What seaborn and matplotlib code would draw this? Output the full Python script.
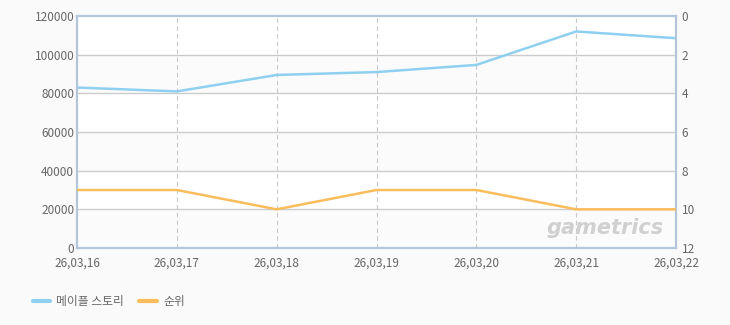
import matplotlib
matplotlib.use("Agg")
import matplotlib.pyplot as plt
import seaborn as sns
import pandas as pd
from matplotlib.lines import Line2D

dates = ["26,03,16", "26,03,17", "26,03,18", "26,03,19", "26,03,20", "26,03,21", "26,03,22"]
users = [83000, 81000, 89500, 91000, 94700, 112000, 108500]
rank = [9, 9, 10, 9, 9, 10, 10]
series_names = ["메이플 스토리", "순위"]
left_ticks = [0, 20000, 40000, 60000, 80000, 100000, 120000]
right_ticks = [0, 2, 4, 6, 8, 10, 12]

sns.set_style("white")
plt.rcParams['font.family'] = ['Noto Sans CJK KR', 'DejaVu Sans']

bg = "#fafafa"
blue = "#8fd0f0"
orange = "#fbbd5c"
spine_c = "#b3c5d8"
txt_c = "#666666"

fig = plt.figure(figsize=(7.3, 3.25), dpi=100, facecolor=bg)
ax = fig.add_axes([77/730, 1-248/325, (676-77)/730, (248-16)/325])
ax.set_facecolor("white")

x = list(range(len(dates)))
df1 = pd.DataFrame({"x": x, "v": users})
df2 = pd.DataFrame({"x": x, "r": rank})

# alternating bands
for i, (lo, hi) in enumerate(zip(left_ticks[:-1], left_ticks[1:])):
    if i % 2 == 0:
        ax.axhspan(lo, hi, color="#fbfbfb", zorder=0, lw=0)

sns.lineplot(data=df1, x="x", y="v", ax=ax, color=blue, lw=1.8, zorder=3)
ax.set_ylim(0, 120000)
ax.set_xlim(0, len(dates) - 1)
ax.set_yticks(left_ticks)
ax.set_yticklabels([str(t) for t in left_ticks])
ax.set_xticks(x)
ax.set_xticklabels(dates)
ax.set_xlabel("")
ax.set_ylabel("")
for yv in left_ticks[1:-1]:
    ax.axhline(yv, color="#cccccc", lw=1, zorder=1)
for xv in x[1:-1]:
    ax.axvline(xv, color="#c8c8c8", lw=0.8, ls=(0, (4, 3)), zorder=1)

ax2 = ax.twinx()
sns.lineplot(data=df2, x="x", y="r", ax=ax2, color=orange, lw=1.8, zorder=3)
ax2.set_ylim(12, 0)
ax2.set_yticks(right_ticks)
ax2.set_yticklabels([str(t) for t in right_ticks])
ax2.set_ylabel("")
ax2.set_xlim(0, len(dates) - 1)

for a in (ax, ax2):
    for s in a.spines.values():
        s.set_color(spine_c)
        s.set_linewidth(1.5)
    a.tick_params(axis="both", length=0, labelsize=8.5, colors=txt_c)

ax.tick_params(axis="x", pad=6)
ax.tick_params(axis="y", pad=2)
ax2.tick_params(axis="y", pad=4)

ax.text(0.98, 0.085, "gametrics", transform=ax.transAxes, ha="right", va="center",
        fontsize=15, fontweight="bold", style="italic", color="#d0d0d0",
        family=["DejaVu Sans"], zorder=2)

handles = [Line2D([0], [0], color=blue, lw=3), Line2D([0], [0], color=orange, lw=3)]
fig.legend(handles, series_names, loc="center left", bbox_to_anchor=(22/730, 1-302/325),
           ncol=2, frameon=False, fontsize=8.5, handlelength=1.5, handletextpad=0.5,
           columnspacing=1.3, labelcolor=txt_c)

fig.savefig("out.png", dpi=100, facecolor=bg)
